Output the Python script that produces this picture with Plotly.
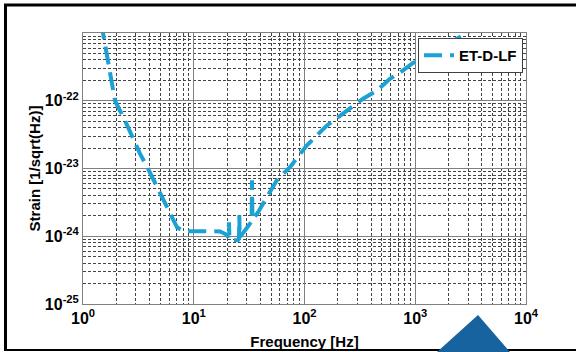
import plotly.graph_objects as go

# Data
freq_hz = [1.45, 1.516, 1.613, 1.945, 2.395, 3.27, 3.86, 4.66, 5.73, 7.06, 7.83, 9.25,
           12.6, 17.3, 19.5, 20.6, 20.8, 21.0, 22.6, 25.1, 25.6, 25.8, 26.0, 30.0,
           33.3, 33.6, 33.9, 38.0, 45.8, 56.1, 73.9, 104.6, 158.6, 209.2, 257.7,
           337.6, 448.6, 591.0, 728.0, 955.0, 2813.0, 3200.0]
strain = [1.5e-21, 9.66e-22, 5.43e-22, 1.0e-22, 5.08e-23, 1.66e-23, 1.0e-23, 5.26e-24,
          2.67e-24, 1.355e-24, 1.225e-24, 1.19e-24, 1.19e-24, 1.18e-24, 1.07e-24,
          9.7e-25, 1.61e-24, 9.5e-25, 8.73e-25, 8.8e-25, 9.2e-25, 2.04e-24, 9.6e-25,
          1.31e-24, 1.65e-24, 6.7e-24, 1.75e-24, 2.25e-24, 3.75e-24, 6.67e-24,
          1.045e-23, 2.18e-23, 4.29e-23, 6.0e-23, 7.96e-23, 1.07e-22, 1.40e-22,
          2.11e-22, 2.61e-22, 3.62e-22, 9.66e-22, 1.1e-21]
series_name = "ET-D-LF"

x_tick_vals = [1, 10, 100, 1000, 10000]
x_tick_exp = ["0", "1", "2", "3", "4"]
y_tick_vals = [1e-25, 1e-24, 1e-23, 1e-22]
y_tick_exp = ["-25", "-24", "-23", "-22"]

x_tick_text = [f"<b>10<sup>{e}</sup></b>" for e in x_tick_exp]
y_tick_text = [f"<b>10<sup>{e}</sup></b>" for e in y_tick_exp]

FONT = "Arial, Liberation Sans, sans-serif"

fig = go.Figure()
fig.add_trace(go.Scatter(
    x=freq_hz, y=strain, mode="lines", name=series_name,
    line=dict(color="#1ba1d3", width=4, dash="18px,8px"),
))

axis_common = dict(
    type="log", automargin=False,
    showline=True, mirror=True, linecolor="#808080", linewidth=1,
    showgrid=True, gridcolor="#808080", gridwidth=1,
    ticks="", zeroline=False,
    tickfont=dict(family=FONT, size=16, color="black"),
    tickmode="array",
    minor=dict(showgrid=True, dtick="D1", gridcolor="#444444", gridwidth=1,
               griddash="3px,2px", ticks=""),
)

fig.update_xaxes(**axis_common, range=[0, 4], tickvals=x_tick_vals, ticktext=x_tick_text,
                 title=dict(text="<b>Frequency [Hz]</b>", standoff=10,
                            font=dict(family=FONT, size=15, color="black")))
fig.update_yaxes(**axis_common, range=[-25, -21], tickvals=y_tick_vals, ticktext=y_tick_text,
                 title=dict(text="<b>Strain [1/sqrt(Hz)]</b>", standoff=0,
                            font=dict(family=FONT, size=15, color="black")))

L, R, T, B = 83, 50, 33, 48
W, H = 576, 352
pw, ph = W - L - R, H - T - B

def px(x):
    return (x - L) / pw

def py(y):
    return (H - B - y) / ph

shapes = [
    dict(type="line", xref="paper", yref="paper", x0=px(4), x1=px(576), y0=py(5), y1=py(5),
         line=dict(color="black", width=3)),
    dict(type="line", xref="paper", yref="paper", x0=px(5.5), x1=px(5.5), y0=py(4), y1=py(351),
         line=dict(color="black", width=3)),
    dict(type="line", xref="paper", yref="paper", x0=px(4), x1=px(576), y0=py(350), y1=py(350),
         line=dict(color="black", width=2)),
    dict(type="path", xref="paper", yref="paper",
         path=f"M {px(437)},{py(352)} L {px(478)},{py(315)} L {px(510)},{py(352)} Z",
         fillcolor="#1763a0", line=dict(width=0)),
]

fig.update_layout(
    width=W, height=H,
    margin=dict(l=L, r=R, t=T, b=B, autoexpand=False),
    paper_bgcolor="white", plot_bgcolor="white",
    font=dict(family=FONT, size=14, color="black"),
    showlegend=True,
    legend=dict(x=px(523), xanchor="right", y=py(38), yanchor="top",
                bgcolor="white", bordercolor="#404040", borderwidth=1,
                font=dict(family=FONT, size=15, color="black", weight="bold"),
                itemwidth=30, tracegroupgap=0),
    shapes=shapes,
)

fig.write_html("out.html", config={"displayModeBar": False},
               post_script="document.body.style.margin='0';")
